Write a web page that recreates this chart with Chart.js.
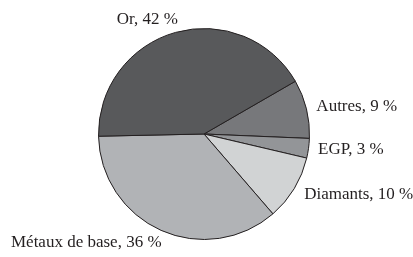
<!DOCTYPE html>
<html>
<head>
<meta charset="utf-8">
<script src="https://cdn.jsdelivr.net/npm/chart.js@4/dist/chart.umd.min.js"></script>
<style>
  html, body { margin: 0; padding: 0; background: #fff; }
  canvas { display: block; }
</style>
</head>
<body>
<canvas id="pieChart" width="413" height="257"></canvas>
<script>
// données (sens horaire, en partant de "Autres")
const categories = ['Autres', 'EGP', 'Diamants', 'Métaux de base', 'Or'];
const shares = [9, 3, 10, 36, 42];
const sliceColors = ['#77787b', '#939598', '#d1d3d4', '#b1b3b6', '#58595b'];

// étiquettes dessinées à l'extérieur du camembert
const outsideLabels = {
  id: 'outsideLabels',
  afterDatasetsDraw(chart) {
    const ctx = chart.ctx;
    const arcs = chart.getDatasetMeta(0).data;
    ctx.save();
    ctx.font = '17px "Liberation Serif", "Times New Roman", serif';
    ctx.fillStyle = '#231f20';
    ctx.textBaseline = 'middle';
    arcs.forEach((arc, i) => {
      const mid = (arc.startAngle + arc.endAngle) / 2;
      const c = Math.cos(mid), s = Math.sin(mid);
      const r = arc.outerRadius + 9 + 5 * Math.abs(s);
      let x = arc.x + c * r;
      const y = arc.y + s * r;
      if (c > 0) {
        ctx.textAlign = 'left';
      } else {
        ctx.textAlign = 'right';
        x += 6;
      }
      ctx.fillText(categories[i] + ', ' + shares[i] + ' %', x, y);
    });
    ctx.restore();
  }
};

new Chart(document.getElementById('pieChart').getContext('2d'), {
  type: 'pie',
  data: {
    labels: categories,
    datasets: [{
      data: shares,
      backgroundColor: sliceColors,
      borderColor: '#231f20',
      borderWidth: 1
    }]
  },
  options: {
    responsive: false,
    animation: false,
    rotation: 60,
    layout: { padding: { top: 28, bottom: 17, left: 0, right: 5 } },
    plugins: {
      legend: { display: false },
      tooltip: { enabled: false }
    }
  },
  plugins: [outsideLabels]
});
</script>
</body>
</html>
